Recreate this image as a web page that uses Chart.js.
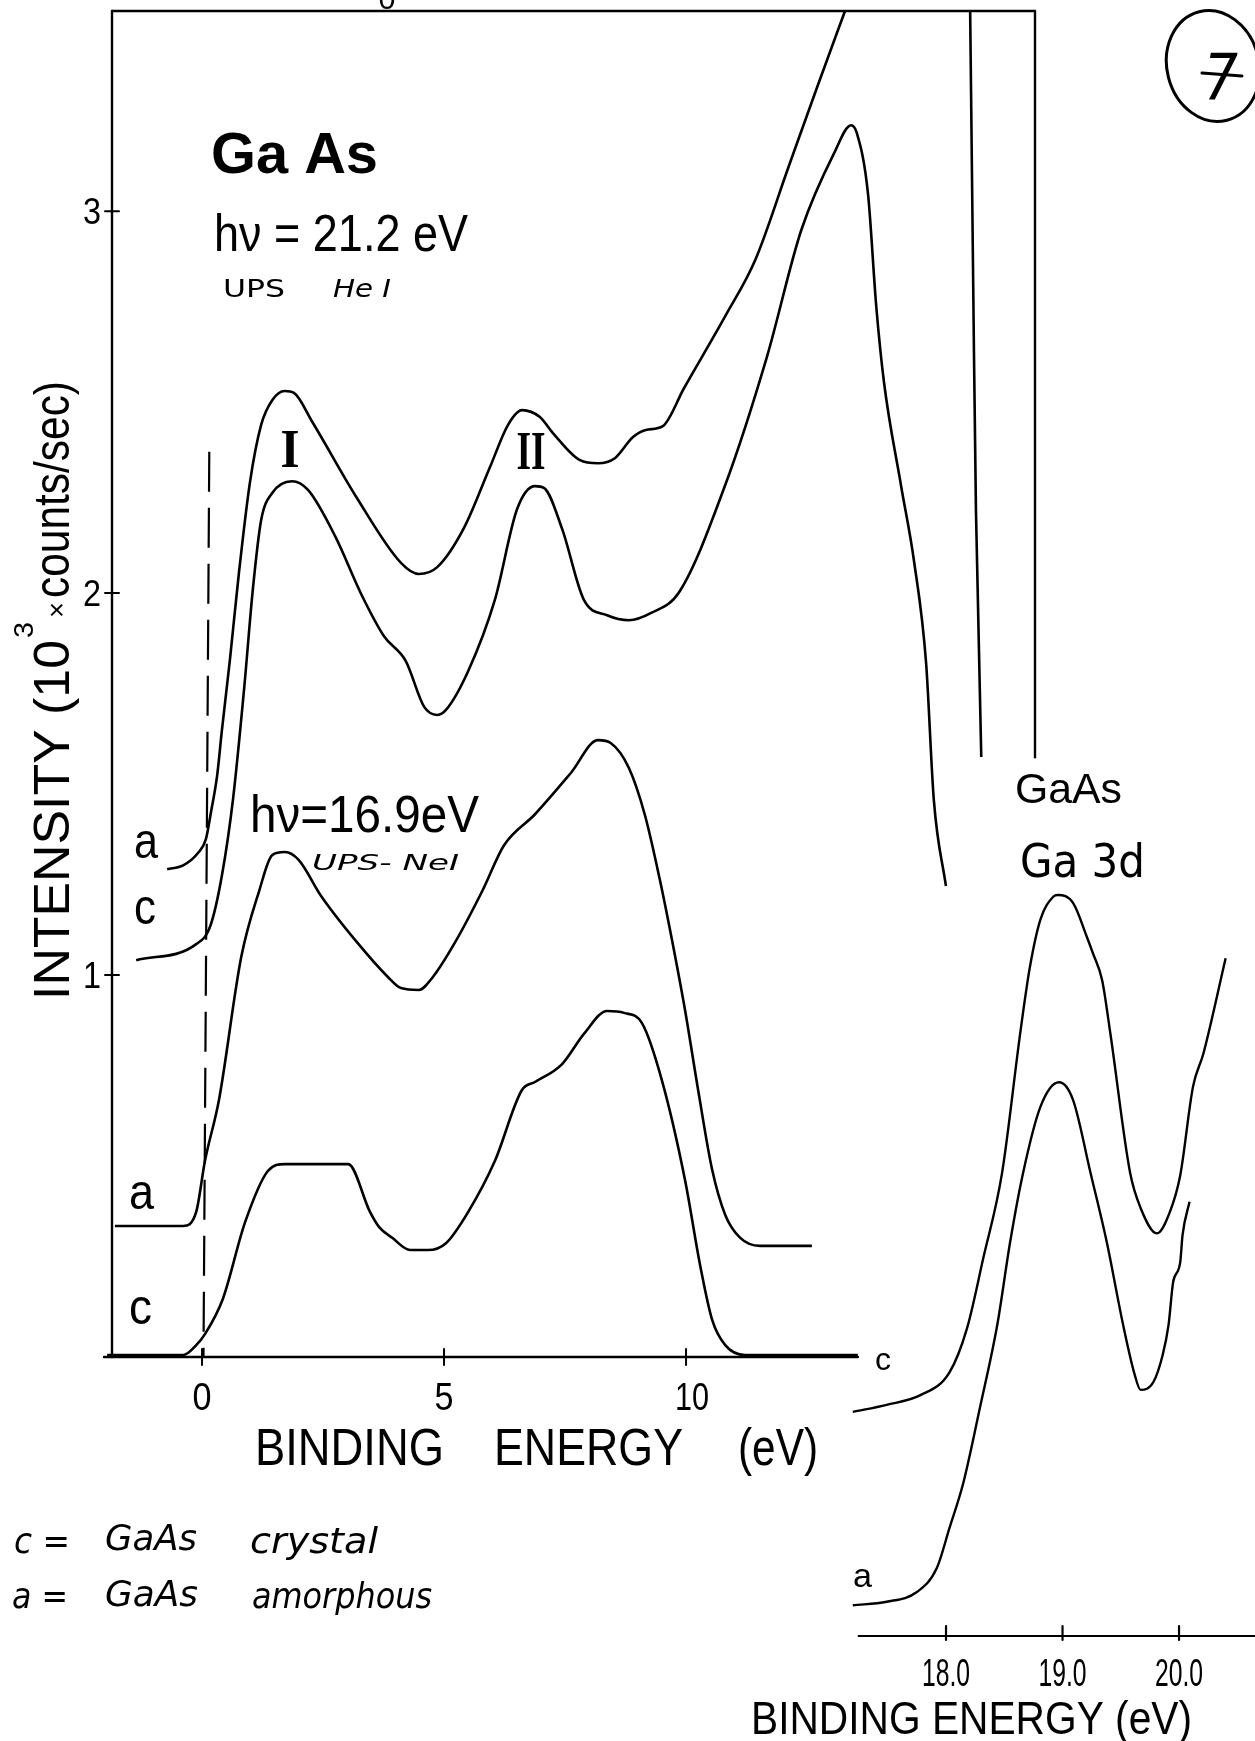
<!DOCTYPE html>
<html>
<head>
<meta charset="utf-8">
<title>GaAs UPS valence band and Ga 3d</title>
<script src="https://cdn.jsdelivr.net/npm/chart.js@4.4.1/dist/chart.umd.min.js"></script>
<style>
  html, body { margin: 0; background: #fff; }
  #fig { position: relative; width: 1255px; height: 1741px; overflow: hidden; background: #fff; }
  #fig canvas { position: absolute; left: 0; top: 0; }
</style>
</head>
<body>
<div id="fig">
  <canvas id="uv" width="1255" height="1741"></canvas>
  <canvas id="ga3d" width="1255" height="1741"></canvas>
</div>
<script>
/* GaAs photoemission spectra: valence band with He I (21.2 eV) and Ne I (16.9 eV),
   plus the Ga 3d core level. c = crystal, a = amorphous. */

// ---- valence band: binding energy (eV) vs intensity (10^3 counts/s)
const heA_E = [-0.72, -0.39, -0.08, 0.08, 0.19, 0.31, 0.41, 0.58, 0.76, 0.99, 1.22, 1.45, 1.71, 1.90, 2.27, 3.20, 4.11, 4.48, 4.86, 5.41, 5.95, 6.32, 6.61, 6.98, 7.25, 7.81, 8.18, 8.53, 8.90, 9.17, 9.52, 9.96, 10.81, 11.43, 12.11, 12.71, 13.29];
const heA_I = [1.277, 1.287, 1.320, 1.356, 1.430, 1.520, 1.640, 1.830, 2.050, 2.290, 2.440, 2.505, 2.529, 2.524, 2.450, 2.249, 2.079, 2.050, 2.068, 2.170, 2.330, 2.440, 2.479, 2.461, 2.419, 2.348, 2.340, 2.353, 2.408, 2.427, 2.437, 2.537, 2.725, 2.872, 3.113, 3.325, 3.526];
// He I amorphous comes back down on the far side of the secondary edge
const heAtail_E = [15.87, 15.95, 15.99, 16.10];
const heAtail_I = [3.526, 2.618, 2.217, 1.571];

const heC_E = [-1.36, -0.12, 0.17, 0.41, 0.64, 0.87, 1.05, 1.22, 1.45, 1.86, 2.19, 2.75, 3.29, 3.76, 4.21, 4.59, 4.86, 5.04, 5.50, 6.05, 6.51, 6.88, 7.07, 7.44, 7.89, 8.37, 8.82, 9.28, 9.86, 10.81, 11.67, 12.38, 13.06, 13.41, 13.53, 13.76, 13.93, 14.09, 14.44, 14.71, 14.96, 15.12, 15.37];
const heC_I = [1.039, 1.081, 1.128, 1.260, 1.460, 1.750, 2.010, 2.190, 2.262, 2.293, 2.270, 2.149, 1.997, 1.887, 1.822, 1.702, 1.681, 1.694, 1.796, 1.982, 2.220, 2.280, 2.275, 2.168, 1.982, 1.942, 1.929, 1.948, 2.003, 2.283, 2.618, 2.950, 3.152, 3.225, 3.204, 3.045, 2.751, 2.552, 2.283, 2.084, 1.817, 1.458, 1.233];

const neA_E = [-1.80, -0.39, -0.12, 0.06, 0.35, 0.81, 1.18, 1.45, 1.71, 2.00, 2.46, 3.20, 3.84, 4.11, 4.48, 4.77, 5.23, 5.79, 6.24, 6.88, 7.62, 8.18, 8.45, 8.82, 9.15, 9.46, 9.71, 9.98, 10.25, 10.54, 10.81, 11.12, 11.53, 12.60];
const neA_I = [0.343, 0.343, 0.380, 0.513, 0.673, 1.047, 1.220, 1.314, 1.322, 1.301, 1.207, 1.086, 0.995, 0.966, 0.961, 0.995, 1.086, 1.220, 1.340, 1.421, 1.529, 1.615, 1.607, 1.542, 1.419, 1.249, 1.092, 0.908, 0.699, 0.490, 0.372, 0.312, 0.291, 0.291];

const neC_E = [-1.96, -0.39, -0.12, 0.06, 0.43, 0.89, 1.36, 1.71, 3.02, 3.47, 3.66, 3.93, 4.30, 4.67, 5.04, 5.50, 6.05, 6.61, 6.88, 7.44, 7.89, 8.37, 8.72, 9.09, 9.50, 9.98, 10.29, 10.54, 10.81, 11.22, 13.55];
const neC_I = [0.005, 0.005, 0.031, 0.060, 0.152, 0.353, 0.487, 0.505, 0.505, 0.380, 0.340, 0.312, 0.280, 0.280, 0.298, 0.380, 0.513, 0.699, 0.720, 0.767, 0.846, 0.906, 0.901, 0.874, 0.725, 0.463, 0.241, 0.097, 0.031, 0.005, 0.005];

// Fermi level marker (dashed)
const fermi_E = [0.15, 0.03];
const fermi_I = [2.37, 0];

const uvTicksX = [0, 5, 10];
const uvTicksY = [1, 2, 3];
const uvAxisEnd = 13.55;   // bottom axis stops where the Ga 3d panel starts
const uvFrameEnd = 1.57;   // right frame edge stops at the same place

// ---- Ga 3d core level: binding energy (eV) vs intensity (arb. units)
const ga3dC_E = [17.20, 17.49, 17.78, 18.03, 18.18, 18.32, 18.48, 18.64, 18.72, 18.81, 18.92, 18.96, 19.09, 19.21, 19.26, 19.34, 19.41, 19.58, 19.67, 19.81, 19.92, 20.01, 20.12, 20.21, 20.40];
const ga3dC_I = [0.255, 0.263, 0.274, 0.300, 0.350, 0.430, 0.526, 0.689, 0.761, 0.815, 0.841, 0.843, 0.834, 0.795, 0.777, 0.746, 0.686, 0.527, 0.487, 0.458, 0.482, 0.524, 0.625, 0.663, 0.771];
const ga3dA_E = [17.20, 17.49, 17.75, 17.92, 18.03, 18.15, 18.29, 18.44, 18.55, 18.66, 18.81, 18.97, 19.09, 19.24, 19.38, 19.52, 19.62, 19.67, 19.78, 19.86, 19.91, 19.95, 20.01, 20.03, 20.09];
const ga3dA_I = [0.035, 0.039, 0.050, 0.077, 0.123, 0.175, 0.259, 0.354, 0.448, 0.526, 0.602, 0.630, 0.610, 0.527, 0.448, 0.354, 0.297, 0.280, 0.289, 0.320, 0.354, 0.403, 0.425, 0.456, 0.494];
const ga3dTicks = [18, 19, 20];
const ga3dTickLabels = ['18.0', '19.0', '20.0'];
const ga3dAxisStart = 17.25;

const INK = '#000';
const SANS = '"Liberation Sans", Arial, sans-serif';
const HAND = '"DejaVu Sans", sans-serif';
const SERIF = '"Liberation Serif", serif';

const pts = (xs, ys) => xs.map((v, i) => ({ x: v, y: ys[i] }));
const curve = (xs, ys, extra) => Object.assign({
  data: pts(xs, ys), borderColor: INK, borderWidth: 2.6, pointRadius: 0,
  cubicInterpolationMode: 'monotone', clip: false, fill: false,
}, extra || {});

function seg(ctx, x1, y1, x2, y2) {
  ctx.beginPath(); ctx.moveTo(x1, y1); ctx.lineTo(x2, y2); ctx.stroke();
}
// text squeezed/stretched to a given width (plotter lettering is condensed)
function put(ctx, s, x, y, font, w, align) {
  ctx.save();
  ctx.font = font;
  const k = w ? w / ctx.measureText(s).width : 1;
  ctx.translate(x, y);
  ctx.scale(k, 1);
  ctx.textAlign = align || 'left';
  ctx.textBaseline = 'alphabetic';
  ctx.fillText(s, 0, 0);
  ctx.restore();
}

const uvDecor = {
  id: 'uvDecor',
  afterDatasetsDraw(chart) {
    const { ctx, chartArea: a, scales: { x, y } } = chart;
    const y0 = y.getPixelForValue(0);
    ctx.save();
    ctx.strokeStyle = INK; ctx.fillStyle = INK; ctx.lineWidth = 2.4; ctx.lineCap = 'round';

    // frame + axes
    seg(ctx, a.left, a.top, a.left, y0);
    seg(ctx, a.left, a.top, a.right, a.top);
    seg(ctx, a.right, a.top, a.right, y.getPixelForValue(uvFrameEnd));
    seg(ctx, a.left - 8, y0, x.getPixelForValue(uvAxisEnd), y0);

    ctx.lineWidth = 2;
    uvTicksY.forEach(v => {
      const p = y.getPixelForValue(v);
      seg(ctx, a.left - 7, p, a.left + 7, p);
      put(ctx, String(v), a.left - 11, p + 13, '36px ' + SANS, 18, 'right');
    });
    uvTicksX.forEach(v => {
      const p = x.getPixelForValue(v);
      seg(ctx, p, y0 - 8, p, y0 + 8);
      put(ctx, String(v), p + (v >= 10 ? 6 : 0), y0 + 53, '38px ' + SANS, v >= 10 ? 34 : 19, 'center');
    });

    // axis titles
    put(ctx, 'BINDING', 255, 1465, '52px ' + SANS, 189);
    put(ctx, 'ENERGY', 494, 1465, '52px ' + SANS, 189);
    put(ctx, '(eV)', 738, 1465, '52px ' + SANS, 80);

    ctx.save();
    ctx.translate(69, 1000);
    ctx.rotate(-Math.PI / 2);
    put(ctx, 'INTENSITY (10', 0, 0, '50px ' + SANS, 360);
    put(ctx, '3', 362, -36, '28px ' + SANS, 16);
    put(ctx, '\u00d7', 382, -3, '28px ' + SANS, 16);
    put(ctx, 'counts/sec)', 402, 0, '50px ' + SANS, 217);
    ctx.restore();

    // annotations
    put(ctx, 'Ga As', 211, 173, 'bold 58px ' + SANS, 167);
    put(ctx, 'h\u03bd = 21.2 eV', 214, 251, '52px ' + SANS, 254);
    put(ctx, 'UPS', 223, 297, '24px ' + HAND, 62);
    put(ctx, 'He I', 333, 297, 'italic 24px ' + HAND, 58);
    put(ctx, 'I', 290, 467, 'bold 54px ' + SERIF, 19, 'center');
    put(ctx, 'II', 531, 469, 'bold 54px ' + SERIF, 29, 'center');
    put(ctx, 'h\u03bd=16.9eV', 250, 832, '52px ' + SANS, 229);
    put(ctx, 'UPS- NeI', 312, 870, 'italic 22px ' + HAND, 147);

    put(ctx, 'a', 134, 858, '50px ' + SANS, 24);
    put(ctx, 'c', 134, 924, '50px ' + SANS, 22);
    put(ctx, 'a', 129, 1209, '50px ' + SANS, 25);
    put(ctx, 'c', 129, 1324, '50px ' + SANS, 23);

    // hand-written key
    const key = 'italic 36px ' + HAND;
    put(ctx, 'c =', 14, 1553, key, 56);
    put(ctx, 'GaAs', 105, 1550, key, 92);
    put(ctx, 'crystal', 250, 1553, key, 128);
    put(ctx, 'a =', 12, 1608, key, 56);
    put(ctx, 'GaAs', 105, 1606, key, 93);
    put(ctx, 'amorphous', 252, 1608, key, 180);

    // page number, circled
    ctx.lineWidth = 3;
    ctx.beginPath();
    ctx.ellipse(1213, 66, 46, 56, -0.25, 0, Math.PI * 2);
    ctx.stroke();
    put(ctx, '7', 1221, 100, 'italic 64px ' + HAND, 34, 'center');
    seg(ctx, 1202, 73, 1242, 76);

    // clipped digit above the frame
    put(ctx, '0', 387, 9, '30px ' + SANS, 17, 'center');
    ctx.restore();
  },
};

new Chart(document.getElementById('uv'), {
  type: 'line',
  data: {
    datasets: [
      curve(heA_E, heA_I),
      curve(heAtail_E, heAtail_I, { cubicInterpolationMode: 'default', tension: 0 }),
      curve(heC_E, heC_I),
      curve(neA_E, neA_I),
      curve(neC_E, neC_I),
      curve(fermi_E, fermi_I, { borderWidth: 2.2, borderDash: [40, 16], cubicInterpolationMode: 'default', tension: 0 }),
    ],
  },
  options: {
    responsive: false, animation: false, devicePixelRatio: 1,
    layout: { padding: { left: 112, top: 11, right: 220, bottom: 384 } },
    plugins: { legend: { display: false }, tooltip: { enabled: false } },
    scales: {
      x: { type: 'linear', display: false, min: -1.86, max: 17.21 },
      y: { type: 'linear', display: false, min: 0, max: 3.524 },
    },
  },
  plugins: [uvDecor],
});

const ga3dDecor = {
  id: 'ga3dDecor',
  afterDatasetsDraw(chart) {
    const { ctx, chartArea: a, scales: { x, y } } = chart;
    const y0 = y.getPixelForValue(0);
    ctx.save();
    ctx.strokeStyle = INK; ctx.fillStyle = INK; ctx.lineWidth = 2.2; ctx.lineCap = 'round';
    seg(ctx, x.getPixelForValue(ga3dAxisStart), y0, a.right + 2, y0);
    ga3dTicks.forEach((v, i) => {
      const p = x.getPixelForValue(v);
      seg(ctx, p, y0 - 10, p, y0 + 4);
      put(ctx, ga3dTickLabels[i], p, y0 + 50, '38px ' + SANS, 48, 'center');
    });
    put(ctx, 'BINDING ENERGY (eV)', 751, 1734, '46px ' + SANS, 441);
    put(ctx, 'GaAs', 1015, 803, '42px ' + SANS, 107);
    put(ctx, 'Ga 3d', 1020, 877, '46px ' + HAND, 125);
    put(ctx, 'c', 875, 1370, '32px ' + SANS, 16);
    put(ctx, 'a', 853, 1587, '34px ' + SANS, 19);
    ctx.restore();
  },
};

new Chart(document.getElementById('ga3d'), {
  type: 'line',
  data: {
    datasets: [
      curve(ga3dC_E, ga3dC_I, { borderWidth: 2.4 }),
      curve(ga3dA_E, ga3dA_I, { borderWidth: 2.4 }),
    ],
  },
  options: {
    responsive: false, animation: false, devicePixelRatio: 1,
    layout: { padding: { left: 852, top: 757, right: 0, bottom: 105 } },
    plugins: { legend: { display: false }, tooltip: { enabled: false } },
    scales: {
      x: { type: 'linear', display: false, min: 17.193, max: 20.652 },
      y: { type: 'linear', display: false, min: 0, max: 1 },
    },
  },
  plugins: [ga3dDecor],
});
</script>
</body>
</html>
